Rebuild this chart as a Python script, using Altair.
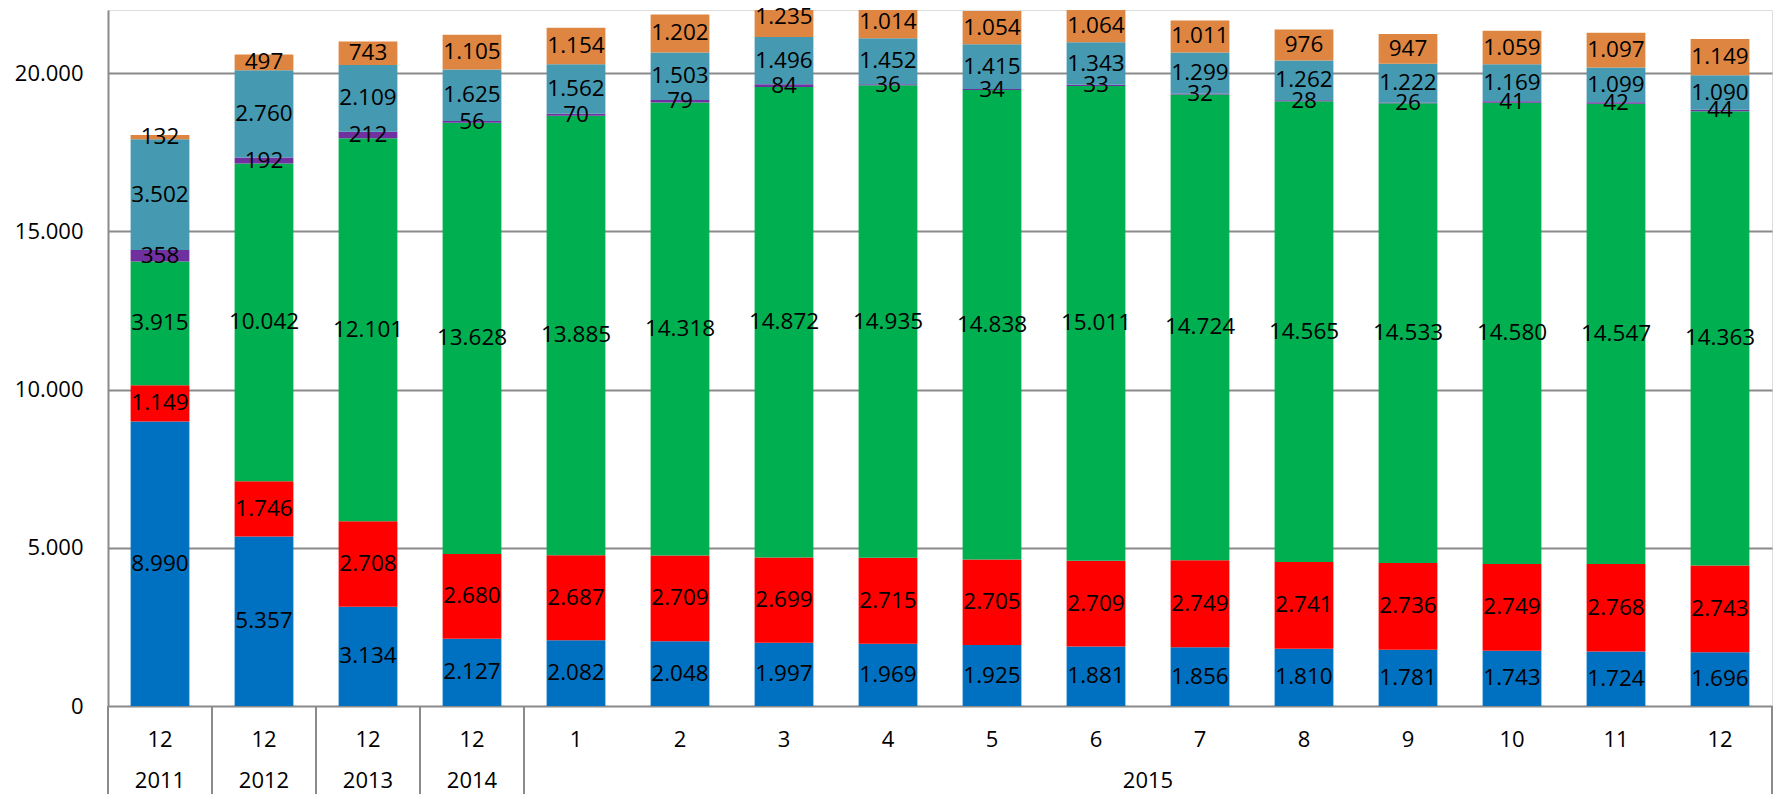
import altair as alt
import pandas as pd

# ---- data ----
months = ["12", "12", "12", "12", "1", "2", "3", "4", "5", "6", "7", "8", "9", "10", "11", "12"]
years = ["2011", "2012", "2013", "2014"] + ["2015"] * 12
cats = [f"{y}-{int(m):02d}" for y, m in zip(years, months)]

series_names = ["blue", "red", "green", "purple", "teal", "orange"]
series_colors = ["#0070C0", "#FF0000", "#00B050", "#7030A0", "#4599B1", "#DE8641"]

blue = [8990, 5357, 3134, 2127, 2082, 2048, 1997, 1969, 1925, 1881, 1856, 1810, 1781, 1743, 1724, 1696]
red = [1149, 1746, 2708, 2680, 2687, 2709, 2699, 2715, 2705, 2709, 2749, 2741, 2736, 2749, 2768, 2743]
green = [3915, 10042, 12101, 13628, 13885, 14318, 14872, 14935, 14838, 15011, 14724, 14565, 14533, 14580, 14547, 14363]
purple = [358, 192, 212, 56, 70, 79, 84, 36, 34, 33, 32, 28, 26, 41, 42, 44]
teal = [3502, 2760, 2109, 1625, 1562, 1503, 1496, 1452, 1415, 1343, 1299, 1262, 1222, 1169, 1099, 1090]
orange = [132, 497, 743, 1105, 1154, 1202, 1235, 1014, 1054, 1064, 1011, 976, 947, 1059, 1097, 1149]

series_values = [blue, red, green, purple, teal, orange]

rows = []
for si, (name, vals) in enumerate(zip(series_names, series_values)):
    for c, v in zip(cats, vals):
        rows.append({"cat": c, "series": name, "order": si, "value": v})
df = pd.DataFrame(rows)

axis_df = pd.DataFrame({"cat": cats, "month": months})
year_df = pd.DataFrame({"cat": ["2011-12", "2012-12", "2013-12", "2014-12"],
                        "year": ["2011", "2012", "2013", "2014"]})
year15_df = pd.DataFrame({"cat": ["2015-06"], "year": ["2015"]})
sep_df = pd.DataFrame({"cat": ["2011-12", "2012-12", "2013-12", "2014-12", "2015-01"]})
sep_end_df = pd.DataFrame({"cat": ["2015-12"]})

W = 1664
H = 696
FONT = "Open Sans"
GRID = "#8a8a8a"
P_IN = 0.435
P_OUT = P_IN / 2
STEP = W / len(cats)
HALF_GAP = P_OUT * STEP  # half of the gap between bars, in px

xscale = alt.Scale(domain=cats, paddingInner=P_IN, paddingOuter=P_OUT)
yscale = alt.Scale(domain=[0, 22000], nice=False)

base = alt.Chart(df).transform_stack(
    stack="value", groupby=["cat"], sort=[alt.SortField("order", "ascending")], as_=["y0", "y1"]
).transform_calculate(
    mid="(datum.y0 + datum.y1) / 2",
    label="replace(format(datum.value, ','), ',', '.')",
)

bars = base.mark_bar(clip=True).encode(
    x=alt.X("cat:N", scale=xscale, sort=cats, axis=None),
    y=alt.Y("y0:Q", scale=yscale, axis=alt.Axis(
        values=[0, 5000, 10000, 15000, 20000],
        labelExpr="replace(format(datum.value, ','), ',', '.')",
        ticks=False, labelPadding=25, labelFont=FONT, labelFontSize=22, labelColor="#000000",
        domainColor=GRID, domainWidth=2, gridColor=GRID, gridWidth=2, grid=True,
        title=None)),
    y2="y1:Q",
    color=alt.Color("series:N", scale=alt.Scale(domain=series_names, range=series_colors), legend=None),
)

labels = base.mark_text(font=FONT, fontSize=22.5, color="#000000", baseline="middle", align="center").encode(
    x=alt.X("cat:N", scale=xscale, sort=cats, axis=None),
    y=alt.Y("mid:Q", scale=yscale),
    text="label:N",
)

month_text = alt.Chart(axis_df).mark_text(font=FONT, fontSize=22, color="#000000",
                                          baseline="middle", align="center").encode(
    x=alt.X("cat:N", scale=xscale, sort=cats, axis=None),
    y=alt.value(H + 34),
    text="month:N",
)

year_text = alt.Chart(year_df).mark_text(font=FONT, fontSize=22, color="#000000",
                                         baseline="middle", align="center").encode(
    x=alt.X("cat:N", scale=xscale, sort=cats, axis=None),
    y=alt.value(H + 75),
    text="year:N",
)

year15_text = alt.Chart(year15_df).mark_text(font=FONT, fontSize=22, color="#000000",
                                             baseline="middle", align="center", dx=HALF_GAP).encode(
    x=alt.X("cat:N", scale=xscale, sort=cats, axis=None, bandPosition=1),
    y=alt.value(H + 75),
    text="year:N",
)

seps = alt.Chart(sep_df).mark_rule(color=GRID, strokeWidth=2, xOffset=-HALF_GAP).encode(
    x=alt.X("cat:N", scale=xscale, sort=cats, axis=None, bandPosition=0),
    y=alt.value(H),
    y2=alt.value(H + 100),
)

sep_end = alt.Chart(sep_end_df).mark_rule(color=GRID, strokeWidth=2, xOffset=HALF_GAP).encode(
    x=alt.X("cat:N", scale=xscale, sort=cats, axis=None, bandPosition=1),
    y=alt.value(H),
    y2=alt.value(H + 100),
)

chart = alt.layer(bars, labels, month_text, year_text, year15_text, seps, sep_end).properties(
    width=W,
    height=H,
    autosize=alt.AutoSizeParams(type="none"),
    padding={"left": 100, "top": 2, "right": 5, "bottom": 88},
).configure_view(stroke=None).configure(background="white")

chart.save("out.html", embed_options={"renderer": "svg", "actions": False})
